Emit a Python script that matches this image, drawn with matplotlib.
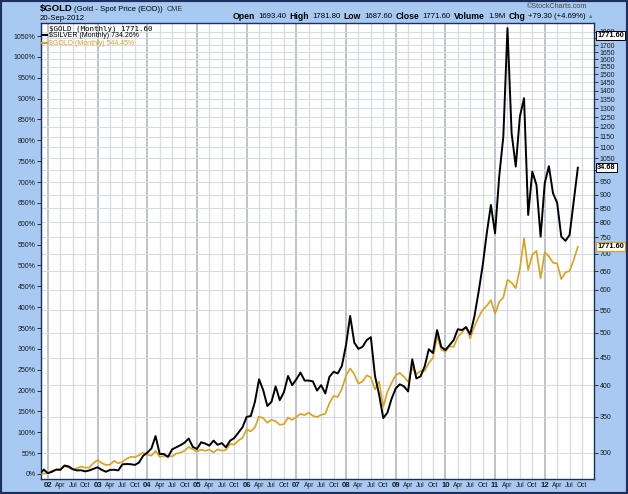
import matplotlib
matplotlib.use("Agg")
import matplotlib.pyplot as plt
import matplotlib.transforms as mtransforms
from matplotlib.patches import Rectangle
from matplotlib.lines import Line2D
from matplotlib.ticker import NullFormatter, NullLocator
import numpy as np

plt.rcParams['font.family'] = ['Liberation Sans', 'DejaVu Sans']

# monthly % change since the Nov 2001 close, Nov 2001 .. Sep 2012
silver_pct = [
    0, 10.5,
    1.8, 5.4, 10.7, 9.9, 20.3, 18.1, 11.6, 8.5, 9.0, 6.3, 8.5, 12.3,
    16.2, 9.9, 5.4, 9.7, 10.2, 8.7, 23.2, 23.9, 23.4, 21.7, 27.5, 43.6,
    51.1, 61.2, 91.0, 48.0, 48.0, 40.7, 59.0, 64.0, 69.0, 75.0, 85.0, 65.0,
    60.0, 76.0, 73.0, 68.0, 80.0, 70.0, 74.0, 64.0, 80.0, 86.0, 99.0, 112.0,
    137, 139, 173, 227, 201, 163, 173, 210, 177, 196, 235, 213,
    227, 243, 224, 224, 222, 200, 213, 193, 233, 245, 241, 259,
    309, 379, 315, 300, 305, 321, 328, 235, 190, 134, 147, 180,
    205, 215, 210, 198, 275, 229, 234, 258, 299, 290, 345, 305,
    297, 309, 321, 347, 345, 352, 335, 377, 435, 499, 577, 645,
    577, 713, 809, 1069, 817, 737, 857, 901, 621, 725, 693, 569,
    697, 738, 673, 650, 569, 559, 573, 653, 734.26,
]
gold_pct = [
    0, 0.8,
    2.6, 7.9, 9.6, 12.0, 18.7, 15.8, 10.8, 13.7, 17.7, 15.2, 15.3, 26.2,
    33.6, 26.3, 21.7, 22.4, 31.4, 25.8, 29.0, 36.5, 41.0, 40.4, 44.8, 51.3,
    46.2, 44.0, 55.3, 40.9, 43.3, 43.8, 42.2, 48.9, 51.1, 55.9, 64.5, 59.2,
    53.5, 58.3, 55.4, 58.4, 51.7, 58.8, 55.9, 57.5, 72.0, 70.5, 80.2, 86.5,
    106.8, 102.1, 111.6, 137.9, 133.8, 123.0, 129.9, 126.6, 117.9, 119.5, 135.1, 129.7,
    136.5, 144.3, 141.0, 147.0, 139.5, 136.6, 141.9, 144.3, 170.0, 187.0, 184.8, 204.1,
    235.6, 253.1, 239.3, 216.6, 222.0, 236.5, 231.6, 202.8, 221.5, 161.0, 197.3, 218.0,
    237.1, 242.4, 233.2, 221.1, 254.6, 239.7, 246.7, 247.3, 266.3, 278.0, 329.7, 298.5,
    293.0, 306.4, 304.7, 328.7, 338.9, 352.2, 324.9, 353.8, 375.1, 393.5, 403.4, 416.6,
    384.3, 412.3, 423.1, 465.6, 458.5, 445.3, 491.9, 564.7, 488.9, 526.0, 534.8, 469.2,
    531.7, 521.6, 506.3, 504.7, 467.3, 483.2, 486.7, 513.5, 544.45,
]
gold_close = 1771.60
silver_close = 34.68

price_ticks = list(range(300, 1801, 50))
pct_ticks = list(range(0, 1051, 50))
year_labels = ["02", "03", "04", "05", "06", "07", "08", "09", "10", "11", "12"]
month_labels = ["Apr", "Jul", "Oct"]

# quote line: (label, value)
quote = [("Open", "1693.40"), ("High", "1781.80"), ("Low", "1687.60"),
         ("Close", "1771.60"), ("Volume", "1.9M"), ("Chg", "+79.30 (+4.69%)")]

W, H = 628, 494
BLUE = "#A8CAF2"
NAVY = "#1E2F5E"
GOLD = "#D9A21E"


def fx(x):
    return x / W


def fy(y):
    return 1 - y / H


# month index, 0 = Jan 2002
months = np.arange(len(gold_pct)) - 2
quarters = np.arange(0, 130, 3)

fig = plt.figure(figsize=(W / 100, H / 100), dpi=100)
fig.patch.set_facecolor(BLUE)
pos = [41 / W, 15 / H, 553 / W, 456 / H]

# right axis: gold price, log scale (also carries the grid)
axr = fig.add_axes(pos)
axr.set_facecolor("white")
axr.set_yscale("log")
axr.set_ylim(268.6, 1867)
axr.set_xlim(-1.67, 131.9)
axr.yaxis.tick_right()
axr.set_yticks(price_ticks)
axr.set_yticklabels([str(p) for p in price_ticks])
axr.yaxis.set_minor_locator(NullLocator())
axr.yaxis.set_minor_formatter(NullFormatter())
axr.tick_params(axis="y", length=3, width=0.6, pad=1, labelsize=5, colors="#1a1a1a")
axr.set_xticks(quarters)
axr.tick_params(axis="x", length=0, labelbottom=False)
axr.grid(True, axis="y", color="#D9DBE3", lw=0.8)
axr.grid(True, axis="x", lw=0.9)
for gl, m in zip(axr.get_xgridlines(), quarters):
    gl.set_color("#B3B8C6" if m % 12 == 0 else "#D9DBE3")
    gl.set_linewidth(1.2 if m % 12 == 0 else 0.9)
for s in axr.spines.values():
    s.set_visible(False)

# left axis: percent change, carries the data
axp = fig.add_axes(pos)
axp.set_facecolor("none")
axp.set_xlim(-1.67, 131.9)
axp.set_ylim(-12, 1081.2)
axp.plot(months, gold_pct, color=GOLD, lw=1.2, zorder=3)
axp.plot(months, silver_pct, color="black", lw=1.4, zorder=4)
axp.set_yticks(pct_ticks)
axp.set_yticklabels([f"{v}%" for v in pct_ticks])
axp.tick_params(axis="y", length=3, width=0.6, pad=1, labelsize=5, colors="#1a1a1a")
axp.set_xticks(quarters)
axp.set_xticklabels([year_labels[m // 12] if m % 12 == 0 else month_labels[(m % 12) // 3 - 1]
                     for m in quarters])
axp.tick_params(axis="x", length=0, pad=2.5, labelsize=4.8, colors="#1a1a1a")
for lbl, m in zip(axp.get_xticklabels(), quarters):
    if m % 12 == 0:
        lbl.set_fontweight("bold")
        lbl.set_fontsize(5.6)
for s in axp.spines.values():
    s.set_color(NAVY)
    s.set_linewidth(1.0)

# last-value tags on the right edge
tag = dict(fontsize=5.3, fontweight="bold", va="center", ha="left", clip_on=False, zorder=10)
tr_r = mtransforms.blended_transform_factory(axr.transAxes, axr.transData)
tr_p = mtransforms.blended_transform_factory(axp.transAxes, axp.transData)
axr.text(1.006, gold_close, f"{gold_close:.2f}", transform=tr_r,
         bbox=dict(boxstyle="square,pad=0.15", fc="white", ec="black", lw=0.7), **tag)
axp.text(1.006, silver_pct[-1], f"{silver_close:.2f}", transform=tr_p,
         bbox=dict(boxstyle="square,pad=0.15", fc="white", ec="black", lw=0.7), **tag)
axp.text(1.006, gold_pct[-1], f"{gold_close:.2f}", transform=tr_p,
         bbox=dict(boxstyle="square,pad=0.15", fc="white", ec=GOLD, lw=0.9), **tag)

# legend block
fig.text(fx(49), fy(28.8), f"$GOLD (Monthly) {gold_close:.2f}", fontsize=5.4,
         family="DejaVu Sans Mono", va="center", ha="left")
fig.text(fx(49), fy(35.3), f"$SILVER (Monthly) {silver_pct[-1]:.2f}%", fontsize=5.0,
         va="center", ha="left")
fig.text(fx(49), fy(43.3), f"$GOLD (Monthly) {gold_pct[-1]:.2f}%", fontsize=5.0,
         color=GOLD, va="center", ha="left")
fig.add_artist(Line2D([fx(42), fx(47)], [fy(35.3), fy(35.3)], color="black", lw=1.5))
fig.add_artist(Line2D([fx(42), fx(47)], [fy(43.3), fy(43.3)], color=GOLD, lw=1.5))

# header
fig.text(fx(40), fy(9), "$GOLD", fontsize=6.8, fontweight="bold", va="center")
fig.text(fx(74), fy(9.5), "(Gold - Spot Price (EOD))", fontsize=5.6, va="center")
fig.text(fx(167), fy(9.5), "CME", fontsize=5.2, color="#333333", va="center")
fig.text(fx(40), fy(18.5), "20-Sep-2012", fontsize=5.6, va="center")
fig.text(fx(587), fy(7), "©StockCharts.com", fontsize=5.2, color="#444444",
         va="center", ha="right")

# quote line, spread between x=233 and x=586
pieces = []
for lab, val in quote:
    pieces.append(fig.text(0, fy(16.5), lab, fontsize=6.2, fontweight="bold", va="center"))
    pieces.append(fig.text(0, fy(16.5), val, fontsize=5.6, va="center"))
renderer = fig.canvas.get_renderer()
widths = [p.get_window_extent(renderer).width for p in pieces]
x0, x1 = 233, 586
gap = (x1 - x0 - sum(widths)) / (len(pieces) - 1)
x = x0
for p, w in zip(pieces, widths):
    p.set_x(fx(x))
    x += w + gap
fig.text(fx(588), fy(16.5), "▲", fontsize=4, color="#2E9E3A", va="center", ha="left")

fig.add_artist(Rectangle((0, 0), 1, 1, transform=fig.transFigure, fill=False,
                         ec=NAVY, lw=3))

fig.savefig("out.png", dpi=100, facecolor=fig.get_facecolor())
